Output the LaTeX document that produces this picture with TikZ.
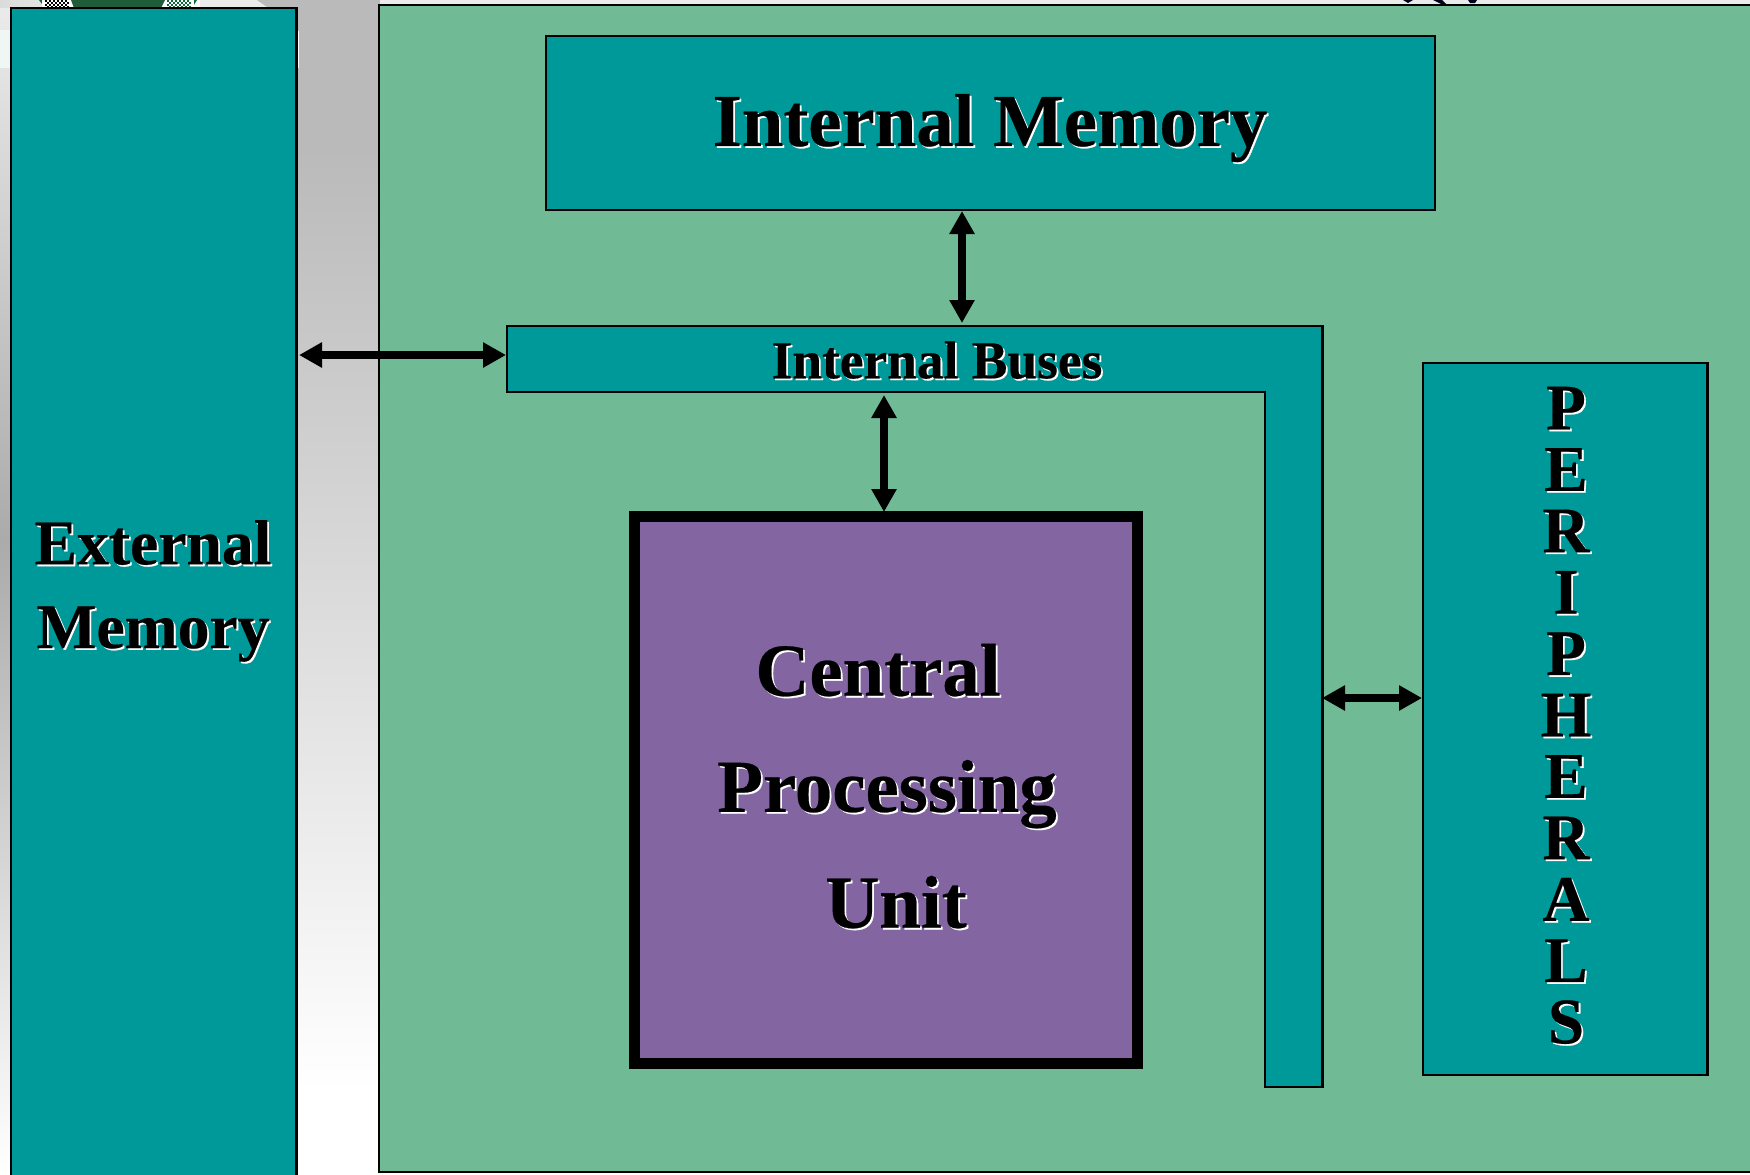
\documentclass[tikz,border=0pt]{standalone}
\usepackage{fontspec}
\setmainfont{Liberation Serif}
\newfontfamily\hv[BoldFeatures={FakeBold=0.35}]{Liberation Serif}
\usetikzlibrary{arrows.meta}
\definecolor{teal1}{HTML}{009999}
\definecolor{green1}{HTML}{70BB96}
\definecolor{purple1}{HTML}{8365A2}
\definecolor{logodark}{HTML}{1F5C3A}
\definecolor{logogreen}{HTML}{0B6B3A}
\tikzset{
 x=0.5pt,y=-0.5pt,
 tealbox/.style={draw=black,fill=teal1,line width=1.25pt},
 link/.style={line width=3.6pt,{Triangle[length=11.5pt,width=12pt]}-{Triangle[length=11.5pt,width=12pt]}},
 txt/.style={font=\hv\bfseries\fontsize{#1}{#1}\selectfont},
}
\newcommand{\shadowtext}[1]{\makebox[0pt][l]{\raisebox{-0.9pt}{\hspace{0.9pt}\textcolor{white}{#1}}}#1}
\begin{document}
\begin{tikzpicture}
\useasboundingbox (0,0) rectangle (1750,1174);
% background
\fill[black!27] (296,0) rectangle (380,150);
\shade[top color=black!27,bottom color=white] (296,150) rectangle (380,1090);
\fill[white] (296,1090) rectangle (380,1174);
\fill[white!92!black] (380,0) rectangle (1750,5);
\shade[left color=black!14,right color=white] (0,0) rectangle (200,8);
\fill[white!92!black] (200,0) rectangle (267,8);
\fill[black!27] (267,0) rectangle (296,8);
\fill[black!27] (257,0) -- (267,0) -- (267,7) -- cycle;
\shade[top color=black!8,bottom color=black!33] (0,8) rectangle (11,540);
\shade[top color=black!33,bottom color=white] (0,540) rectangle (11,1174);
\fill[green1!12!white] (0,30) rectangle (11,68);
\fill[white] (296,31) rectangle (299,68);
% logo fragment
\fill[logogreen] (39,0) -- (197,0) -- (192,8) -- (45,8) -- cycle;
\fill[white] (42,0) rectangle (194,8);
\fill[logodark] (71,0) -- (165,0) -- (161,8) -- (74,8) -- cycle;
\foreach \i in {0,...,11}\foreach \j in {0,...,3}{
  \pgfmathparse{int(mod(\i+\j,2))}
  \ifnum\pgfmathresult=0
    \fill[black] ({45+2*\i},{2*\j}) rectangle ++(2,2);
    \fill[logogreen] ({167+2*\i},{2*\j}) rectangle ++(2,2);
  \fi
}
% top-right fragments
\fill[black!90!blue] (1403,0) -- (1413,0) -- (1408,3) -- cycle;
\fill[black!90!blue] (1433,0) -- (1442,0) -- (1446,4) -- (1441,4) -- cycle;
\fill[black!90!blue] (1468,0) -- (1477,0) -- (1475,3) -- (1470,3) -- cycle;
% boxes
\node[tealbox,anchor=north west,inner sep=0,outer sep=0,minimum width=142.75pt,minimum height=590pt] (ext) at (11,8) {};
\node[draw=black,fill=green1,line width=1.2pt,anchor=north west,inner sep=0,outer sep=0,minimum width=695pt,minimum height=583.5pt] (board) at (379,5) {};
\node[tealbox,anchor=north west,inner sep=0,outer sep=0,minimum width=444.5pt,minimum height=87pt] (im) at (546,36) {};
\node[txt=37.4] (imtxt) at (990,129) {\shadowtext{Internal Memory}};
\draw[tealbox] (507,326) -- (1322.5,326) -- (1322.5,1087) -- (1265,1087) -- (1265,392) -- (507,392) -- cycle;
\coordinate (busl) at (506,355);
\coordinate (busr) at (1322,698);
\coordinate (bust) at (962,323);
\coordinate (busb) at (884,395);
\coordinate (extr) at (299,355);
\node[txt=26.7] (bustxt) at (937,361) {\shadowtext{Internal Buses}};
\node[tealbox,anchor=north west,inner sep=0,outer sep=0,minimum width=142.25pt,minimum height=356pt] (per) at (1423,363) {};
\node[draw=black,fill=purple1,line width=5.5pt,anchor=north west,inner sep=0,outer sep=0,minimum width=251.25pt,minimum height=273.25pt] (cpu) at (634.5,516.5) {};
\node[txt=37.4] (cpu1) at (878,671) {\shadowtext{Central}};
\node[txt=37.4] (cpu2) at (887,795) {\shadowtext{Processing}};
\node[txt=37.4] (cpu3) at (896,903) {\shadowtext{Unit}};
\node[txt=31.8] (ext1) at (153,543.5) {\shadowtext{External}};
\node[txt=31.8] (ext2) at (153,635) {\shadowtext{Memory}};
\foreach \c [count=\i from 0] in {P,E,R,I,P,H,E,R,A,L,S}
  \node[txt=32.5] (p\i) at (1566,{409+\i*61.4}) {\shadowtext{\c}};
\coordinate (imb) at (962,211);
\coordinate (cput) at (884,512);
\coordinate (perl) at (1422,698);
\draw[link] (extr) -- (busl);
\draw[link] (imb) -- (bust);
\draw[link] (busb) -- (cput);
\draw[link] (busr) -- (perl);
\end{tikzpicture}
\end{document}
